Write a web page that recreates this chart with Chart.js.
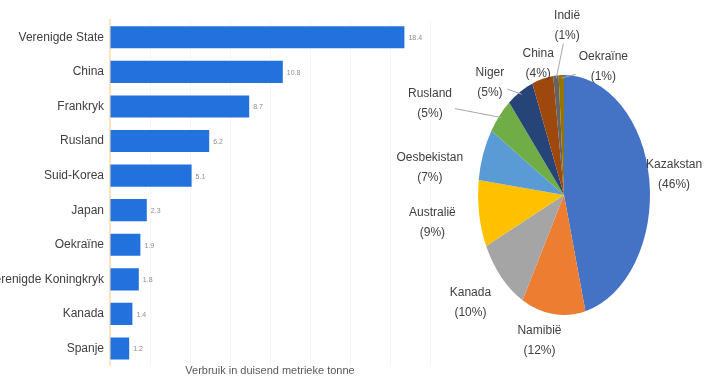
<!DOCTYPE html>
<html>
<head>
<meta charset="utf-8">
<script src="https://cdn.jsdelivr.net/npm/chart.js@4.4.0/dist/chart.umd.min.js"></script>
<style>
  html, body { margin: 0; padding: 0; background: #fff; }
  #wrap { position: relative; width: 706px; height: 379px; overflow: hidden; }
  #barChart { position: absolute; left: 0; top: 0; }
  #pieChart { position: absolute; left: 380px; top: 0; }
</style>
</head>
<body>
<div id="wrap">
  <canvas id="barChart" width="440" height="379"></canvas>
  <canvas id="pieChart" width="326" height="379"></canvas>
</div>
<script>
// Verbruik (staafgrafiek)
const countries = ["Verenigde State", "China", "Frankryk", "Rusland", "Suid-Korea",
  "Japan", "Oekraïne", "Verenigde Koningkryk", "Kanada", "Spanje"];
const consumption = [18.4, 10.8, 8.7, 6.2, 5.1, 2.3, 1.9, 1.8, 1.4, 1.2];
const xTitle = "Verbruik in duisend metrieke tonne";

// Produksie (sirkelgrafiek)
const producers = ["Kazakstan", "Namibië", "Kanada", "Australië", "Oesbekistan",
  "Rusland", "Niger", "China", "Indië", "Oekraïne"];
const shares = [46, 12, 10, 9, 7, 5, 5, 4, 1, 1];
const pieColors = ["#4472c4", "#ed7d31", "#a5a5a5", "#ffc000", "#5b9bd5",
  "#70ad47", "#264478", "#9e480e", "#636363", "#997300"];
// skuif van elke etiket vanaf sy standaardposisie
const labelNudge = [[-5, -2], [-10, -3], [-9, 5], [-17, 4], [-25, 23],
  [-47, 8], [-15, 17], [3, 14], [14, -20], [43, 22]];

const FONT = "'Liberation Sans Narrow', 'Arial Narrow', 'Liberation Sans', sans-serif";
const TEXT = "#404040";

// Waardes langs die stawe
const barValues = {
  id: "barValues",
  afterDatasetsDraw(chart) {
    const ctx = chart.ctx;
    const meta = chart.getDatasetMeta(0);
    ctx.save();
    ctx.font = "7px " + FONT;
    ctx.fillStyle = "#8c8c8c";
    ctx.textBaseline = "middle";
    meta.data.forEach((bar, i) => {
      ctx.fillText(consumption[i].toFixed(1), bar.x + 4, bar.y + 1);
    });
    ctx.restore();
  }
};

new Chart(document.getElementById("barChart"), {
  type: "bar",
  data: {
    labels: countries,
    datasets: [{
      data: consumption,
      backgroundColor: "#2271dc",
      borderWidth: 0,
      barPercentage: 0.64,
      categoryPercentage: 1
    }]
  },
  options: {
    indexAxis: "y",
    responsive: false,
    animation: false,
    events: [],
    layout: { padding: { top: 20, right: 10, bottom: 0, left: 0 } },
    plugins: { legend: { display: false }, tooltip: { enabled: false } },
    scales: {
      x: {
        min: 0,
        max: 20,
        ticks: { display: false, stepSize: 2.5 },
        grid: { color: "rgba(0,0,0,0.035)", drawTicks: false },
        border: { display: false },
        title: {
          display: true,
          text: xTitle,
          color: "#595959",
          font: { family: FONT, size: 11, lineHeight: 1.0 },
          padding: { top: 0, bottom: 0 }
        }
      },
      y: {
        afterFit(scale) { scale.width = 110; },
        ticks: { color: TEXT, font: { family: FONT, size: 12 }, padding: 6 },
        grid: { display: false, drawTicks: false },
        border: { display: true, color: "#fbe3bd", width: 2 }
      }
    }
  },
  plugins: [barValues]
});

// Sirkel uitgerek tot 'n ellips
const STRETCH = 120 / 86;
const ellipse = {
  id: "ellipse",
  beforeDatasetsDraw(chart) {
    const arc = chart.getDatasetMeta(0).data[0];
    const ctx = chart.ctx;
    ctx.save();
    ctx.translate(arc.x, arc.y);
    ctx.scale(1, STRETCH);
    ctx.translate(-arc.x, -arc.y);
  },
  afterDatasetsDraw(chart) {
    chart.ctx.restore();
  }
};

const pieLabels = {
  id: "pieLabels",
  afterDraw(chart) {
    const ctx = chart.ctx;
    const arcs = chart.getDatasetMeta(0).data;
    ctx.save();
    ctx.font = "12px " + FONT;
    ctx.fillStyle = TEXT;
    ctx.textAlign = "center";
    ctx.textBaseline = "middle";
    arcs.forEach((arc, i) => {
      const mid = (arc.startAngle + arc.endAngle) / 2;
      const rx = arc.outerRadius;
      const ry = arc.outerRadius * STRETCH;
      const ex = arc.x + (rx - 3) * Math.cos(mid);
      const ey = arc.y + (ry - 3) * Math.sin(mid);
      const lx = arc.x + (rx + 30) * Math.cos(mid) + labelNudge[i][0];
      const ly = arc.y + (ry + 30) * Math.sin(mid) + labelNudge[i][1];
      const line1 = producers[i];
      const line2 = "(" + shares[i] + "%)";
      const w = Math.max(ctx.measureText(line1).width, ctx.measureText(line2).width);
      const h = 34;

      if (shares[i] < 6) {
        // leierlyn van die etiket se rand na die sny
        const dx = ex - lx, dy = ey - ly;
        const t = Math.min(Math.abs((w / 2 + 3) / (dx || 1e-6)), Math.abs((h / 2 + 1) / (dy || 1e-6)), 1);
        if (t < 0.9) {
          ctx.beginPath();
          ctx.strokeStyle = "#a6a6a6";
          ctx.lineWidth = 1;
          ctx.moveTo(lx + dx * t, ly + dy * t);
          ctx.lineTo(ex, ey);
          ctx.stroke();
        }
      }
      ctx.fillText(line1, lx, ly - 10);
      ctx.fillText(line2, lx, ly + 10);
    });
    ctx.restore();
  }
};

new Chart(document.getElementById("pieChart"), {
  type: "pie",
  data: {
    labels: producers,
    datasets: [{
      data: shares,
      backgroundColor: pieColors,
      borderWidth: 0
    }]
  },
  options: {
    responsive: false,
    animation: false,
    events: [],
    layout: { padding: { left: 98, right: 56, top: 109, bottom: 98 } },
    plugins: { legend: { display: false }, tooltip: { enabled: false } }
  },
  plugins: [ellipse, pieLabels]
});
</script>
</body>
</html>
